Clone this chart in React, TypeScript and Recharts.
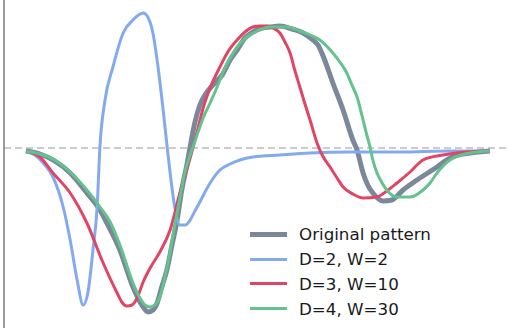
import React from 'react';
import { LineChart, Line, XAxis, YAxis, ReferenceLine } from 'recharts';

type Pt = { t: number; v: number };

// time step / amplitude pairs for each series
const originalPattern: Pt[] = [
  { t: 0, v: -0.03 }, { t: 3.0, v: -0.06 }, { t: 6.2, v: -0.13 }, { t: 9.5, v: -0.25 },
  { t: 13.1, v: -0.45 }, { t: 15.9, v: -0.62 }, { t: 17.4, v: -0.75 }, { t: 20.2, v: -1.02 },
  { t: 23.0, v: -1.39 }, { t: 25.2, v: -1.59 }, { t: 26.2, v: -1.64 }, { t: 27.3, v: -1.62 },
  { t: 28.2, v: -1.55 }, { t: 29.2, v: -1.39 }, { t: 30.3, v: -1.22 }, { t: 31.4, v: -0.97 },
  { t: 32.5, v: -0.72 }, { t: 33.5, v: -0.42 }, { t: 34.6, v: -0.17 }, { t: 35.3, v: 0.01 },
  { t: 36.3, v: 0.25 }, { t: 37.4, v: 0.43 }, { t: 38.5, v: 0.53 }, { t: 40.6, v: 0.65 },
  { t: 42.2, v: 0.73 }, { t: 43.9, v: 0.88 }, { t: 45.4, v: 0.98 }, { t: 47.1, v: 1.1 },
  { t: 48.8, v: 1.16 }, { t: 50.8, v: 1.2 }, { t: 52.5, v: 1.21 }, { t: 54.6, v: 1.22 },
  { t: 57.2, v: 1.19 }, { t: 59.6, v: 1.15 }, { t: 61.7, v: 1.08 }, { t: 62.8, v: 1.03 },
  { t: 63.9, v: 0.92 }, { t: 66.0, v: 0.65 }, { t: 68.2, v: 0.38 }, { t: 70.3, v: 0.08 },
  { t: 71.2, v: -0.02 }, { t: 72.5, v: -0.25 }, { t: 73.5, v: -0.37 }, { t: 74.6, v: -0.45 },
  { t: 76.8, v: -0.53 }, { t: 78.7, v: -0.52 }, { t: 81.1, v: -0.42 }, { t: 84.1, v: -0.32 },
  { t: 88.4, v: -0.19 }, { t: 91.2, v: -0.1 }, { t: 95.5, v: -0.05 }, { t: 99.8, v: -0.03 },
];

const d2w2: Pt[] = [
  { t: 0, v: -0.03 }, { t: 1.9, v: -0.07 }, { t: 3.7, v: -0.15 }, { t: 5.8, v: -0.29 },
  { t: 8.0, v: -0.59 }, { t: 9.5, v: -0.92 }, { t: 11.0, v: -1.32 }, { t: 12.3, v: -1.57 },
  { t: 13.3, v: -1.45 }, { t: 14.4, v: -1.02 }, { t: 15.3, v: -0.59 }, { t: 15.9, v: 0.01 },
  { t: 17.0, v: 0.48 }, { t: 18.7, v: 0.81 }, { t: 20.9, v: 1.15 }, { t: 23.0, v: 1.28 },
  { t: 25.2, v: 1.35 }, { t: 26.2, v: 1.31 }, { t: 27.3, v: 1.15 }, { t: 28.4, v: 0.81 },
  { t: 29.5, v: 0.38 }, { t: 30.5, v: -0.05 }, { t: 31.0, v: -0.25 }, { t: 32.0, v: -0.59 },
  { t: 33.1, v: -0.77 }, { t: 34.2, v: -0.77 }, { t: 36.8, v: -0.59 }, { t: 39.6, v: -0.35 },
  { t: 41.7, v: -0.22 }, { t: 43.9, v: -0.16 }, { t: 46.0, v: -0.12 }, { t: 48.8, v: -0.09 },
  { t: 54.6, v: -0.07 }, { t: 61.1, v: -0.05 }, { t: 69.7, v: -0.04 }, { t: 80.4, v: -0.04 },
  { t: 91.2, v: -0.03 }, { t: 99.8, v: -0.03 },
];

const d3w10: Pt[] = [
  { t: 0, v: -0.03 }, { t: 3.0, v: -0.09 }, { t: 5.8, v: -0.25 }, { t: 9.5, v: -0.45 },
  { t: 13.1, v: -0.75 }, { t: 16.6, v: -1.15 }, { t: 19.6, v: -1.45 }, { t: 20.6, v: -1.54 },
  { t: 21.7, v: -1.58 }, { t: 22.8, v: -1.57 }, { t: 23.9, v: -1.5 }, { t: 25.2, v: -1.34 },
  { t: 26.7, v: -1.2 }, { t: 28.8, v: -1.04 }, { t: 31.0, v: -0.82 }, { t: 33.1, v: -0.45 },
  { t: 34.2, v: -0.27 }, { t: 35.3, v: -0.1 }, { t: 36.8, v: 0.16 }, { t: 38.1, v: 0.4 },
  { t: 39.6, v: 0.6 }, { t: 41.7, v: 0.81 }, { t: 43.4, v: 0.96 }, { t: 45.4, v: 1.08 },
  { t: 47.1, v: 1.16 }, { t: 48.8, v: 1.21 }, { t: 50.3, v: 1.22 }, { t: 51.8, v: 1.22 },
  { t: 53.5, v: 1.19 }, { t: 54.6, v: 1.15 }, { t: 55.7, v: 1.06 }, { t: 56.8, v: 0.95 },
  { t: 57.8, v: 0.78 }, { t: 58.9, v: 0.61 }, { t: 60.0, v: 0.44 }, { t: 61.1, v: 0.28 },
  { t: 62.6, v: 0.05 }, { t: 63.7, v: -0.07 }, { t: 65.4, v: -0.19 }, { t: 66.9, v: -0.3 },
  { t: 68.2, v: -0.39 }, { t: 70.3, v: -0.46 }, { t: 72.5, v: -0.5 }, { t: 75.5, v: -0.49 },
  { t: 77.6, v: -0.43 }, { t: 79.8, v: -0.35 }, { t: 82.6, v: -0.24 }, { t: 85.4, v: -0.12 },
  { t: 89.7, v: -0.07 }, { t: 94.4, v: -0.04 }, { t: 99.8, v: -0.03 },
];

const d4w30: Pt[] = [
  { t: 0, v: -0.03 }, { t: 3.0, v: -0.06 }, { t: 6.2, v: -0.12 }, { t: 9.5, v: -0.24 },
  { t: 13.1, v: -0.42 }, { t: 15.9, v: -0.59 }, { t: 18.1, v: -0.74 }, { t: 20.2, v: -0.97 },
  { t: 23.0, v: -1.35 }, { t: 24.5, v: -1.5 }, { t: 25.6, v: -1.57 }, { t: 26.7, v: -1.59 },
  { t: 27.7, v: -1.57 }, { t: 28.8, v: -1.49 }, { t: 29.9, v: -1.29 }, { t: 31.0, v: -1.04 },
  { t: 32.0, v: -0.77 }, { t: 33.1, v: -0.5 }, { t: 34.2, v: -0.24 }, { t: 35.3, v: -0.07 },
  { t: 35.9, v: 0.01 }, { t: 36.8, v: 0.13 }, { t: 38.1, v: 0.3 }, { t: 39.6, v: 0.45 },
  { t: 41.1, v: 0.61 }, { t: 42.4, v: 0.76 }, { t: 43.9, v: 0.9 }, { t: 45.4, v: 1.01 },
  { t: 47.5, v: 1.11 }, { t: 49.7, v: 1.17 }, { t: 52.5, v: 1.21 }, { t: 56.1, v: 1.21 },
  { t: 58.9, v: 1.17 }, { t: 61.1, v: 1.13 }, { t: 63.2, v: 1.08 }, { t: 66.0, v: 0.95 },
  { t: 67.5, v: 0.86 }, { t: 69.0, v: 0.75 }, { t: 70.1, v: 0.63 }, { t: 71.2, v: 0.51 },
  { t: 72.5, v: 0.28 }, { t: 73.3, v: 0.13 }, { t: 74.0, v: 0.01 }, { t: 74.6, v: -0.12 },
  { t: 75.5, v: -0.25 }, { t: 76.6, v: -0.35 }, { t: 77.6, v: -0.42 }, { t: 79.8, v: -0.49 },
  { t: 82.6, v: -0.49 }, { t: 85.4, v: -0.42 }, { t: 86.9, v: -0.35 }, { t: 88.4, v: -0.25 },
  { t: 91.2, v: -0.12 }, { t: 95.5, v: -0.05 }, { t: 99.8, v: -0.03 },
];

const seriesList = [
  { name: 'Original pattern', data: originalPattern, color: '#7a8899', width: 5 },
  { name: 'D=2, W=2', data: d2w2, color: '#83aaf1', width: 3 },
  { name: 'D=3, W=10', data: d3w10, color: '#e24465', width: 3 },
  { name: 'D=4, W=30', data: d4w30, color: '#63c28d', width: 3 },
];

const FONT = '"DejaVu Sans", sans-serif';

export default function App() {
  return (
    <div style={{ position: 'absolute', left: 0, top: 0, width: 508, height: 333, background: '#fff' }}>
      <LineChart width={508} height={333} margin={{ top: 0, right: 0, bottom: 5, left: 3 }}>
        <XAxis
          type="number"
          dataKey="t"
          domain={[-4.73, 103.67]}
          allowDataOverflow
          hide
        />
        <YAxis
          type="number"
          dataKey="v"
          domain={[-1.8, 1.48]}
          allowDataOverflow
          width={1}
          tick={false}
          tickLine={false}
          axisLine={{ stroke: '#7a7a7a', strokeWidth: 1.5 }}
        />
        <ReferenceLine y={0} stroke="#cccccc" strokeWidth={2} strokeDasharray="7 4" />
        {seriesList.map((s) => (
          <Line
            key={s.name}
            data={s.data}
            dataKey="v"
            name={s.name}
            type="monotone"
            stroke={s.color}
            strokeWidth={s.width}
            dot={false}
            isAnimationActive={false}
          />
        ))}
      </LineChart>

      {/* legend */}
      <div style={{ position: 'absolute', left: 250, top: 222, fontFamily: FONT, fontSize: 16.7, color: '#1a1a1a' }}>
        {seriesList.map((s) => (
          <div key={s.name} style={{ display: 'flex', alignItems: 'center', height: 24.8 }}>
            <div style={{ width: 37, height: s.width, background: s.color, marginRight: 12 }} />
            <span style={{ lineHeight: '20px', whiteSpace: 'nowrap' }}>{s.name}</span>
          </div>
        ))}
      </div>
    </div>
  );
}
